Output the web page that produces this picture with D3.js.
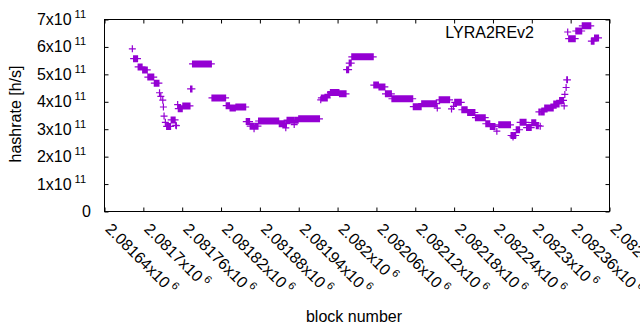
<!DOCTYPE html>
<html><head><meta charset="utf-8">
<script src="https://cdn.jsdelivr.net/npm/d3@7/dist/d3.min.js"></script>
<style>
body{margin:0;background:#fff}
svg{display:block}
text{font-family:"Liberation Sans",Arial,sans-serif;fill:#000}
</style>
</head><body>
<svg id="chart" width="640" height="330"></svg>
<script>
const seriesName = "LYRA2REv2";
const xTitle = "block number";
const yTitle = "hashrate [h/s]";

// runs of consecutive blocks sharing the same hashrate estimate
const runStart = [2081683,2081685,2081692,2081699,2081707,2081717,2081725,2081727,2081730,2081731,2081732,2081734,
  2081736,2081743,2081750,2081751,2081753,2081754,2081761,2081773,2081776,2081806,2081828,2081834,2081843,2081859,
  2081865,2081871,2081872,2081878,2081910,2081920,2081921,2081922,2081933,2081934,2081940,2081974,2081975,2081985,
  2081989,2082003,2082014,2082018,2082022,2082056,2082064,2082074,2082084,2082117,2082130,2082154,2082157,2082176,
  2082179,2082181,2082192,2082201,2082213,2082229,2082236,2082246,2082249,2082268,2082271,2082272,2082276,2082282,
  2082292,2082300,2082307,2082311,2082313,2082314,2082320,2082334,2082343,2082350,2082351,2082353,2082354,2082357,
  2082368,2082378,2082392,2082397];
const runEnd = [2081683,2081691,2081698,2081706,2081716,2081724,2081725,2081727,2081730,2081731,2081732,2081734,
  2081742,2081749,2081750,2081751,2081753,2081760,2081772,2081775,2081805,2081827,2081833,2081842,2081858,2081864,
  2081870,2081871,2081877,2081909,2081919,2081920,2081921,2081932,2081933,2081939,2081972,2081974,2081984,2081988,
  2082002,2082013,2082017,2082021,2082055,2082063,2082073,2082083,2082116,2082129,2082153,2082154,2082173,2082176,
  2082179,2082191,2082200,2082212,2082228,2082235,2082243,2082246,2082267,2082270,2082271,2082275,2082281,2082291,
  2082299,2082306,2082310,2082312,2082313,2082319,2082333,2082342,2082349,2082350,2082351,2082353,2082355,2082367,
  2082377,2082391,2082396,2082403];
const runValue = [5.93e11,5.57e11,5.27e11,5.16e11,4.90e11,4.68e11,4.33e11,4.20e11,4.06e11,3.81e11,3.48e11,3.25e11,
  3.10e11,3.34e11,3.14e11,3.13e11,3.90e11,3.75e11,3.85e11,4.47e11,5.38e11,4.14e11,3.86e11,3.77e11,3.81e11,3.28e11,
  3.11e11,3.02e11,3.11e11,3.30e11,3.20e11,3.05e11,3.20e11,3.33e11,3.17e11,3.33e11,3.38e11,4.07e11,4.14e11,4.27e11,
  4.34e11,4.29e11,5.17e11,5.41e11,5.64e11,4.61e11,4.54e11,4.29e11,4.11e11,3.82e11,3.93e11,3.77e11,4.07e11,3.74e11,
  3.83e11,3.98e11,3.71e11,3.61e11,3.42e11,3.20e11,3.10e11,2.93e11,3.16e11,2.77e11,2.72e11,2.77e11,2.98e11,3.25e11,
  3.06e11,3.24e11,3.13e11,3.63e11,3.11e11,3.63e11,3.77e11,3.92e11,4.05e11,3.85e11,4.27e11,4.52e11,4.80e11,6.30e11,
  6.58e11,6.77e11,6.21e11,6.33e11];

const xTicks = [2081640,2081700,2081760,2081820,2081880,2081940,2082000,2082060,2082120,2082180,2082240,2082300,2082360,2082420];
const xTickLabels = ["2.08164","2.0817","2.08176","2.08182","2.08188","2.08194","2.082","2.08206","2.08212","2.08218","2.08224","2.0823","2.08236","2.08242"];
const xTickExp = "6";
const yTicks = [0,1e11,2e11,3e11,4e11,5e11,6e11,7e11];
const yTickLabels = ["0","1x10","2x10","3x10","4x10","5x10","6x10","7x10"];
const yTickExp = ["","11","11","11","11","11","11","11"];

const color = "#9400d3";
const svg = d3.select("#chart");
const L = 104.5, R = 609.5, T = 19.5, B = 211.5;
const x = d3.scaleLinear().domain([2081640, 2082420]).range([L, R]);
const y = d3.scaleLinear().domain([0, 7e11]).range([B, T]);

// expand runs to one point per block
const points = [];
runStart.forEach((s, i) => { for (let b = s; b <= runEnd[i]; b++) points.push({b, v: runValue[i]}); });

const tick = 4;
// axes with inward ticks
const gL = svg.append("g").attr("transform", `translate(${L},0)`)
  .call(d3.axisLeft(y).tickValues(yTicks).tickSize(-tick).tickFormat(""));
const gR = svg.append("g").attr("transform", `translate(${R},0)`)
  .call(d3.axisRight(y).tickValues(yTicks).tickSize(-tick).tickFormat(""));
const gB = svg.append("g").attr("transform", `translate(0,${B})`)
  .call(d3.axisBottom(x).tickValues(xTicks).tickSize(-tick).tickFormat(""));
const gT = svg.append("g").attr("transform", `translate(0,${T})`)
  .call(d3.axisTop(x).tickValues(xTicks).tickSize(-tick).tickFormat(""));
[gL, gR, gB, gT].forEach(g => { g.select(".domain").remove(); g.selectAll("line").attr("stroke", "#000"); });

svg.append("rect").attr("x", L).attr("y", T).attr("width", R - L).attr("height", B - T)
  .attr("fill", "none").attr("stroke", "#000").attr("stroke-width", 1);

// y tick labels
yTicks.forEach((t, i) => {
  const txt = svg.append("text").attr("font-size", 16).attr("text-anchor", "end")
    .attr("x", i === 0 ? 91 : 86).attr("y", y(t) + 5.5);
  txt.append("tspan").text(yTickLabels[i]);
  if (yTickExp[i]) txt.append("tspan").attr("dx", 3).attr("dy", -7).attr("font-size", 11).text(yTickExp[i]);
});

// x tick labels (rotated)
xTicks.forEach((t, i) => {
  const txt = svg.append("text").attr("font-size", 16).attr("text-anchor", "start")
    .attr("transform", `translate(${x(t)},230) rotate(45)`);
  txt.append("tspan").text(xTickLabels[i] + "x10");
  txt.append("tspan").attr("dx", 3).attr("dy", -7).attr("font-size", 11).text(xTickExp);
});

// titles
svg.append("text").attr("font-size", 16).attr("text-anchor", "middle")
  .attr("x", 354).attr("y", 321.5).text(xTitle);
svg.append("text").attr("font-size", 16).attr("text-anchor", "middle")
  .attr("transform", "translate(21,114) rotate(-90)").text(yTitle);

// points ('+')
const h = 3.5;
const plus = (cx, cy) => `M${cx - h},${cy}h${2 * h}M${cx},${cy - h}v${2 * h}`;
svg.append("path").attr("fill", "none").attr("stroke", color).attr("stroke-width", 1.2)
  .attr("d", points.map(p => plus(x(p.b), y(p.v))).join(""));

// legend
svg.append("text").attr("font-size", 16).attr("text-anchor", "end")
  .attr("x", 534).attr("y", 37.5).text(seriesName);
svg.append("path").attr("fill", "none").attr("stroke", color).attr("stroke-width", 1.2)
  .attr("d", plus(567.7, 32));
</script>
</body></html>
